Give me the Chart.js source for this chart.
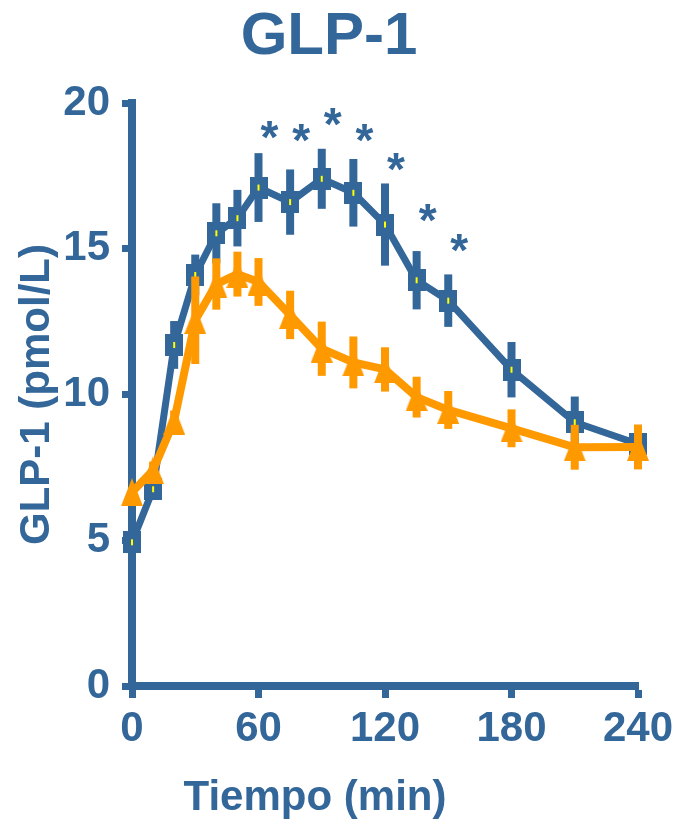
<!DOCTYPE html>
<html>
<head>
<meta charset="utf-8">
<script src="https://cdn.jsdelivr.net/npm/chart.js@4/dist/chart.umd.min.js"></script>
<style>
  html, body { margin: 0; padding: 0; background: #fff; }
  #glp { display: block; }
</style>
</head>
<body>
<canvas id="glp" width="674" height="820"></canvas>
<script>
const tiempo = [0, 10, 20, 30, 40, 50, 60, 75, 90, 105, 120, 135, 150, 180, 210, 240];

const serieAzul = [4.93, 6.75, 11.7, 14.1, 15.53, 16.05, 17.1, 16.6, 17.4, 16.92, 15.83, 13.92, 13.22, 10.85, 9.05, 8.3];
const errAzul = [0.15, 0.35, 0.82, 0.7, 1.03, 0.97, 1.18, 1.12, 1.03, 1.16, 1.41, 1.0, 0.9, 0.95, 0.88, 0.45];

const serieNaranja = [6.65, 7.4, 9.1, 12.55, 13.79, 14.13, 13.86, 12.73, 11.57, 11.1, 10.86, 9.91, 9.47, 8.84, 8.19, 8.2];
const errNaranja = [0.15, 0.3, 0.35, 1.5, 0.88, 0.77, 0.82, 0.83, 0.93, 0.89, 0.76, 0.7, 0.65, 0.65, 0.77, 0.77];

// asteriscos de significancia (tiempo, altura)
const asteriscoTiempo = [60, 75, 90, 105, 120, 135, 150];
const asteriscoY = [19.07, 18.96, 19.53, 18.96, 17.99, 16.22, 15.19];

const xTicks = [0, 60, 120, 180, 240];
const yTicks = [0, 5, 10, 15, 20];

const azul = '#336699';
const naranja = '#FF9900';
const fuente = "'Liberation Sans', Arial, sans-serif";

Chart.defaults.font.family = fuente;
Chart.defaults.font.weight = 'bold';
Chart.defaults.color = azul;

// marcadores
function marcadorCuadro() {
  const c = document.createElement('canvas');
  c.width = 18; c.height = 22;
  const g = c.getContext('2d');
  g.fillStyle = azul;
  g.fillRect(0, 0, 18, 22);
  g.fillStyle = '#FFFF00';
  g.fillRect(8, 8, 2, 6);
  return c;
}

function marcadorTriangulo() {
  const c = document.createElement('canvas');
  c.width = 22; c.height = 28;
  const g = c.getContext('2d');
  g.fillStyle = naranja;
  g.beginPath();
  g.moveTo(11, 0);
  g.lineTo(22, 28);
  g.lineTo(0, 28);
  g.closePath();
  g.fill();
  return c;
}

const puntos = (ys) => tiempo.map((t, i) => ({ x: t, y: ys[i] }));

// barras de error (EEM) debajo de cada serie
const barrasError = {
  id: 'barrasError',
  beforeDatasetDraw(chart, args) {
    const ds = chart.data.datasets[args.index];
    if (!ds.errores) return;
    const { x, y } = chart.scales;
    const ctx = chart.ctx;
    ctx.save();
    ctx.strokeStyle = ds.borderColor;
    ctx.lineWidth = 8;
    ds.data.forEach((p, i) => {
      const px = x.getPixelForValue(p.x);
      ctx.beginPath();
      ctx.moveTo(px, y.getPixelForValue(p.y + ds.errores[i]));
      ctx.lineTo(px, y.getPixelForValue(p.y - ds.errores[i]));
      ctx.stroke();
    });
    ctx.restore();
  }
};

const asteriscos = {
  id: 'asteriscos',
  afterDatasetsDraw(chart) {
    const { x, y } = chart.scales;
    const ctx = chart.ctx;
    ctx.save();
    ctx.font = 'bold 46px ' + fuente;
    ctx.fillStyle = azul;
    ctx.textAlign = 'center';
    ctx.textBaseline = 'alphabetic';
    asteriscoTiempo.forEach((t, i) => {
      ctx.fillText('*', x.getPixelForValue(t) + 11, y.getPixelForValue(asteriscoY[i]) + 23);
    });
    ctx.restore();
  }
};

const tituloX = {
  id: 'tituloX',
  afterDraw(chart) {
    const ctx = chart.ctx;
    ctx.save();
    ctx.font = 'bold 42px ' + fuente;
    ctx.fillStyle = azul;
    ctx.textAlign = 'center';
    ctx.textBaseline = 'alphabetic';
    ctx.fillText('Tiempo (min)', 315, 810);
    ctx.restore();
  }
};

new Chart(document.getElementById('glp'), {
  type: 'line',
  data: {
    datasets: [
      {
        label: 'Azul',
        data: puntos(serieAzul),
        errores: errAzul,
        borderColor: azul,
        backgroundColor: azul,
        borderWidth: 7,
        pointStyle: marcadorCuadro(),
        pointRadius: 10,
        tension: 0,
        clip: false,
        order: 2
      },
      {
        label: 'Naranja',
        data: puntos(serieNaranja),
        errores: errNaranja,
        borderColor: naranja,
        backgroundColor: naranja,
        borderWidth: 8,
        pointStyle: marcadorTriangulo(),
        pointRadius: 10,
        tension: 0,
        clip: false,
        order: 1
      }
    ]
  },
  options: {
    responsive: false,
    animation: false,
    layout: { padding: { left: 12, right: 28, top: 0, bottom: 0 } },
    plugins: {
      legend: { display: false },
      tooltip: { enabled: false },
      title: {
        display: true,
        text: 'GLP-1',
        color: azul,
        font: { size: 60, weight: 'bold' },
        padding: { top: 1, bottom: 30 }
      }
    },
    scales: {
      x: {
        type: 'linear',
        min: 0,
        max: 240,
        afterBuildTicks: (s) => { s.ticks = xTicks.map(v => ({ value: v })); },
        afterFit: (s) => { s.height = 134; s.paddingLeft = 0; s.paddingRight = 36; },
        grid: { drawOnChartArea: false, tickLength: 12, tickWidth: 7, tickColor: azul },
        border: { color: azul, width: 8 },
        ticks: { font: { size: 42, weight: 'bold' }, color: azul, padding: 6, maxRotation: 0 }
      },
      y: {
        min: 0,
        max: 20,
        afterBuildTicks: (s) => { s.ticks = yTicks.map(v => ({ value: v })); },
        afterFit: (s) => { s.width = 120; },
        grid: { drawOnChartArea: false, tickLength: 10, tickWidth: 7, tickColor: azul },
        border: { color: azul, width: 8 },
        ticks: { font: { size: 42, weight: 'bold' }, color: azul, padding: 12 },
        title: {
          display: true,
          text: 'GLP-1 (pmol/L)',
          color: azul,
          font: { size: 42, weight: 'bold' },
          padding: { top: 0, bottom: 0 }
        }
      }
    }
  },
  plugins: [barrasError, asteriscos, tituloX]
});
</script>
</body>
</html>
